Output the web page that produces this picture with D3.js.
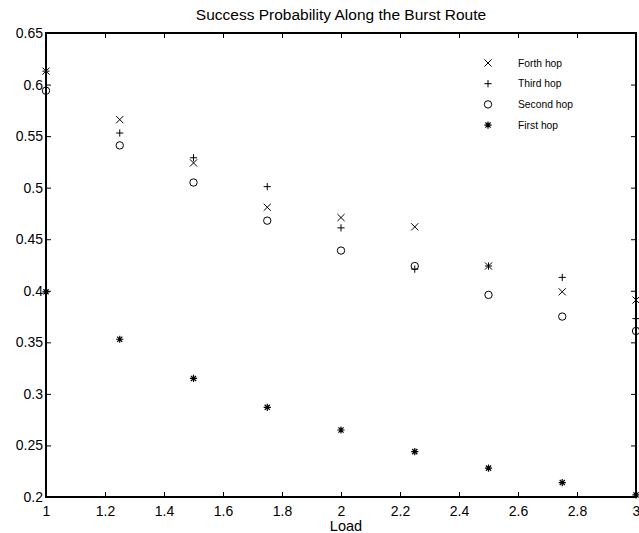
<!DOCTYPE html>
<html>
<head>
<meta charset="utf-8">
<script src="https://cdn.jsdelivr.net/npm/d3@7"></script>
<style>
  body { margin: 0; background: #fff; }
  svg { display: block; font-family: "Liberation Sans", Arial, sans-serif; }
</style>
</head>
<body>
<svg id="chart" width="639" height="533"></svg>
<script>
// Data
const loads = [1, 1.25, 1.5, 1.75, 2, 2.25, 2.5, 2.75, 3];
const forthHop = [0.613, 0.566, 0.524, 0.481, 0.471, 0.462, 0.424, 0.399, 0.391];
const thirdHop = [0.613, 0.553, 0.529, 0.501, 0.461, 0.421, 0.424, 0.413, 0.373];
const secondHop = [0.594, 0.541, 0.505, 0.468, 0.439, 0.424, 0.396, 0.375, 0.361];
const firstHop = [0.399, 0.353, 0.315, 0.287, 0.265, 0.244, 0.228, 0.214, 0.202];
const xTicks = [1, 1.2, 1.4, 1.6, 1.8, 2, 2.2, 2.4, 2.6, 2.8, 3];
const yTicks = [0.2, 0.25, 0.3, 0.35, 0.4, 0.45, 0.5, 0.55, 0.6, 0.65];

const series = [
  { name: 'Forth hop', values: forthHop, marker: 'x' },
  { name: 'Third hop', values: thirdHop, marker: 'plus' },
  { name: 'Second hop', values: secondHop, marker: 'circle' },
  { name: 'First hop', values: firstHop, marker: 'star' }
];

const svg = d3.select('#chart');
const m = { left: 46, right: 3, top: 33, bottom: 36 };
const W = 639, H = 533;
const x = d3.scaleLinear().domain([1, 3]).range([m.left, W - m.right]);
const y = d3.scaleLinear().domain([0.2, 0.65]).range([H - m.bottom, m.top]);

// marker path generators
const s = 3.6;
function markerPath(type) {
  if (type === 'x') return `M${-s},${-s}L${s},${s}M${-s},${s}L${s},${-s}`;
  if (type === 'plus') return `M${-s},0L${s},0M0,${-s}L0,${s}`;
  if (type === 'star') {
    const d = s * 0.72;
    return `M${-s},0L${s},0M0,${-s}L0,${s}M${-d},${-d}L${d},${d}M${-d},${d}L${d},${-d}`;
  }
  return null;
}
function drawMarker(g, type, px, py) {
  if (type === 'circle') {
    g.append('circle').attr('cx', px).attr('cy', py).attr('r', 3.7)
      .attr('fill', 'none').attr('stroke', '#000').attr('stroke-width', 1);
  } else {
    g.append('path').attr('d', markerPath(type))
      .attr('transform', `translate(${px},${py})`)
      .attr('fill', 'none').attr('stroke', '#000')
      .attr('stroke-width', type === 'star' ? 1.2 : 1);
  }
}

// axes with inward ticks on all four sides
const tl = 5;
svg.append('g').attr('transform', `translate(0,${H - m.bottom})`)
  .call(d3.axisBottom(x).tickValues(xTicks).tickSizeInner(-tl).tickSizeOuter(0).tickPadding(9).tickFormat(d3.format('')))
  .call(g => g.select('.domain').remove());
svg.append('g').attr('transform', `translate(0,${m.top})`)
  .call(d3.axisTop(x).tickValues(xTicks).tickSizeInner(-tl).tickSizeOuter(0).tickFormat(''))
  .call(g => g.select('.domain').remove());
svg.append('g').attr('transform', `translate(${m.left},0)`)
  .call(d3.axisLeft(y).tickValues(yTicks).tickSizeInner(-tl).tickSizeOuter(0).tickPadding(3).tickFormat(d3.format('')))
  .call(g => g.select('.domain').remove());
svg.append('g').attr('transform', `translate(${W - m.right},0)`)
  .call(d3.axisRight(y).tickValues(yTicks).tickSizeInner(-tl).tickSizeOuter(0).tickFormat(''))
  .call(g => g.select('.domain').remove());

svg.selectAll('.tick text').attr('font-size', 14).attr('fill', '#000')
  .attr('font-family', '"Liberation Sans", Arial, sans-serif');
svg.selectAll('.tick line').attr('stroke', '#000');

// box
svg.append('rect')
  .attr('x', m.left).attr('y', m.top)
  .attr('width', W - m.right - m.left).attr('height', H - m.bottom - m.top)
  .attr('fill', 'none').attr('stroke', '#000').attr('stroke-width', 2);

// points
const gPts = svg.append('g');
series.forEach(sr => {
  sr.values.forEach((v, i) => drawMarker(gPts, sr.marker, x(loads[i]), y(v)));
});

// legend
const lg = svg.append('g');
series.forEach((sr, i) => {
  const ly = 63 + i * 20.7;
  drawMarker(lg, sr.marker, 488, ly);
  lg.append('text').attr('x', 518).attr('y', ly).attr('dy', '0.35em')
    .attr('font-size', 10.3).text(sr.name);
});

// title and x label
svg.append('text').attr('x', 341).attr('y', 20).attr('text-anchor', 'middle')
  .attr('font-size', 15.5).text('Success Probability Along the Burst Route');
svg.append('text').attr('x', 346).attr('y', 531).attr('text-anchor', 'middle')
  .attr('font-size', 14.5).text('Load');
</script>
</body>
</html>
